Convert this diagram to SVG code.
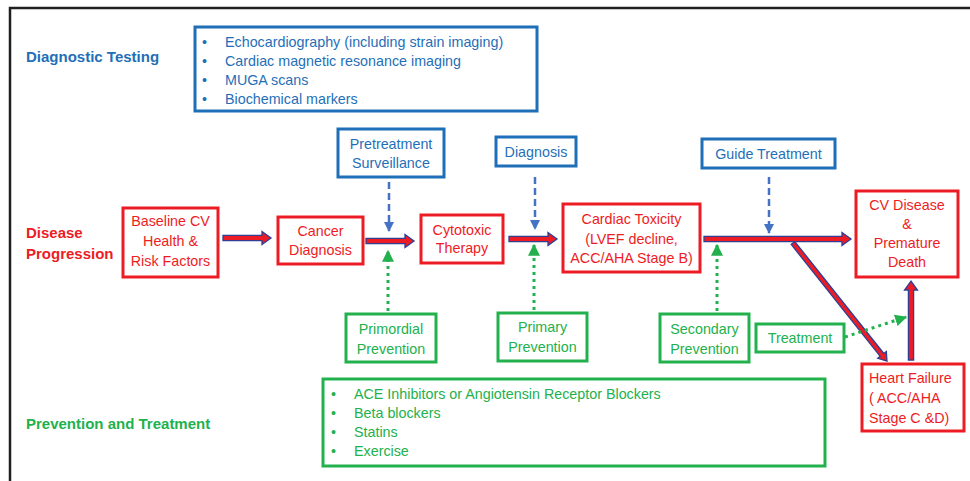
<svg xmlns="http://www.w3.org/2000/svg" width="970" height="481" viewBox="0 0 970 481">
<defs>
<style>
text{font-family:"Liberation Sans",Arial,sans-serif;font-size:14.3px}
.red{fill:#ED1C24}.blue{fill:#1F6FB8}.green{fill:#22B14C}
.lbl{font-weight:bold;font-size:15px}
.rbox{fill:#fff;stroke:#ED1C24;stroke-width:3}
.bbox{fill:#fff;stroke:#1F6FB8;stroke-width:3}
.gbox{fill:#fff;stroke:#22B14C;stroke-width:3}
.blk{fill:#ED1C24;stroke:#2F3F93;stroke-width:1.3}
.dash{stroke:#4472C4;stroke-width:2.5;stroke-dasharray:7,4;fill:none}
.dot{stroke:#22B14C;stroke-width:3;stroke-dasharray:3,4;fill:none}
</style>
<marker id="mb" viewBox="0 0 10 10" refX="9" refY="5" markerWidth="4" markerHeight="4" orient="auto" markerUnits="strokeWidth"><path d="M0,0 L10,5 L0,10 Z" fill="#4472C4"/></marker>
<marker id="mg" viewBox="0 0 10 10" refX="9" refY="5" markerWidth="4" markerHeight="4" orient="auto" markerUnits="strokeWidth"><path d="M0,0 L10,5 L0,10 Z" fill="#22B14C"/></marker>
</defs>
<rect width="970" height="481" fill="#fff"/>
<path d="M10,481 V8 H970" fill="none" stroke="#231F20" stroke-width="2.5"/>

<g id="labels">
<text class="lbl blue" x="26" y="62">Diagnostic Testing</text>
<text class="lbl red" x="26" y="238">Disease</text>
<text class="lbl red" x="26" y="259">Progression</text>
<text class="lbl green" x="26" y="429">Prevention and Treatment</text>
</g>

<g id="diag-list">
<rect class="bbox" x="195" y="27" width="342" height="84"/>
<g class="blue">
<text x="202" y="47">•</text><text x="225" y="47">Echocardiography (including strain imaging)</text>
<text x="202" y="66">•</text><text x="225" y="66">Cardiac magnetic resonance imaging</text>
<text x="202" y="85">•</text><text x="225" y="85">MUGA scans</text>
<text x="202" y="104">•</text><text x="225" y="104">Biochemical markers</text>
</g>
</g>

<g id="connectors">
<path class="blk" transform="translate(223,238)" d="M0,-2.6 H39 V-6.5 L48,0 L39,6.5 V2.6 H0 Z"/>
<path class="blk" transform="translate(366,241)" d="M0,-2.6 H39 V-6.5 L48,0 L39,6.5 V2.6 H0 Z"/>
<path class="blk" transform="translate(509,239)" d="M0,-2.6 H39 V-6.5 L48,0 L39,6.5 V2.6 H0 Z"/>
<path class="blk" transform="translate(704,239)" d="M0,-2.6 H138 V-6.5 L147,0 L138,6.5 V2.6 H0 Z"/>
<path class="blk" transform="translate(793,243) rotate(51.5)" d="M0,-2.3 H143 V-5.5 L151,0 L143,5.5 V2.3 H0 Z"/>
<path class="blk" transform="translate(911,360) rotate(-90)" d="M0,-2.6 H70 V-6.5 L79,0 L70,6.5 V2.6 H0 Z"/>
<line class="dash" x1="389" y1="182" x2="389" y2="231" marker-end="url(#mb)"/>
<line class="dash" x1="535" y1="177" x2="535" y2="229" marker-end="url(#mb)"/>
<line class="dash" x1="769" y1="177" x2="769" y2="233" marker-end="url(#mb)"/>
<line class="dot" x1="388" y1="311" x2="388" y2="251" marker-end="url(#mg)"/>
<line class="dot" x1="534" y1="310" x2="534" y2="245" marker-end="url(#mg)"/>
<line class="dot" x1="717" y1="311" x2="717" y2="245" marker-end="url(#mg)"/>
<line class="dot" x1="845" y1="337" x2="906" y2="317" marker-end="url(#mg)"/>
</g>

<g id="baseline">
<rect class="rbox" x="123" y="208" width="95" height="69"/>
<g class="red" text-anchor="middle"><text x="170.5" y="226">Baseline CV</text><text x="170.5" y="246">Health &amp;</text><text x="170.5" y="266">Risk Factors</text></g>
</g>
<g id="cancer-diagnosis">
<rect class="rbox" x="278" y="217" width="85" height="47"/>
<g class="red" text-anchor="middle"><text x="320.5" y="236">Cancer</text><text x="320.5" y="255">Diagnosis</text></g>
</g>
<g id="cytotoxic">
<rect class="rbox" x="421" y="215" width="82" height="48"/>
<g class="red" text-anchor="middle"><text x="462" y="235">Cytotoxic</text><text x="462" y="253">Therapy</text></g>
</g>
<g id="cardiac-toxicity">
<rect class="rbox" x="563" y="204" width="137" height="68"/>
<g class="red" text-anchor="middle"><text x="631.5" y="224">Cardiac Toxicity</text><text x="631.5" y="244">(LVEF decline,</text><text x="631.5" y="263">ACC/AHA Stage B)</text></g>
</g>
<g id="cv-disease">
<rect class="rbox" x="856" y="191" width="102" height="86"/>
<g class="red" text-anchor="middle"><text x="907" y="210">CV Disease</text><text x="907" y="229">&amp;</text><text x="907" y="248">Premature</text><text x="907" y="267">Death</text></g>
</g>
<g id="heart-failure">
<rect class="rbox" x="862" y="364" width="102" height="67"/>
<g class="red"><text x="869" y="383">Heart Failure</text><text x="869" y="403">( ACC/AHA</text><text x="869" y="423">Stage C &amp;D)</text></g>
</g>

<g id="pretreatment">
<rect class="bbox" x="338" y="129" width="106" height="48"/>
<g class="blue" text-anchor="middle"><text x="391" y="149">Pretreatment</text><text x="391" y="168">Surveillance</text></g>
</g>
<g id="diagnosis">
<rect class="bbox" x="496" y="137" width="80" height="29"/>
<text class="blue" text-anchor="middle" x="536" y="157">Diagnosis</text>
</g>
<g id="guide-treatment">
<rect class="bbox" x="702" y="139" width="133" height="29"/>
<text class="blue" text-anchor="middle" x="768.5" y="159">Guide Treatment</text>
</g>

<g id="primordial">
<rect class="gbox" x="346" y="314" width="90" height="48"/>
<g class="green" text-anchor="middle"><text x="391" y="334">Primordial</text><text x="391" y="354">Prevention</text></g>
</g>
<g id="primary">
<rect class="gbox" x="498" y="313" width="89" height="48"/>
<g class="green" text-anchor="middle"><text x="542.5" y="332">Primary</text><text x="542.5" y="352">Prevention</text></g>
</g>
<g id="secondary">
<rect class="gbox" x="660" y="314" width="89" height="48"/>
<g class="green" text-anchor="middle"><text x="704.5" y="334">Secondary</text><text x="704.5" y="354">Prevention</text></g>
</g>
<g id="treatment">
<rect class="gbox" x="756" y="324" width="88" height="28"/>
<text class="green" text-anchor="middle" x="800" y="343">Treatment</text>
</g>

<g id="prev-list">
<rect class="gbox" x="323" y="379" width="502" height="87"/>
<g class="green">
<text x="331" y="399">•</text><text x="354" y="399">ACE Inhibitors or Angiotensin Receptor Blockers</text>
<text x="331" y="418">•</text><text x="354" y="418">Beta blockers</text>
<text x="331" y="437">•</text><text x="354" y="437">Statins</text>
<text x="331" y="456">•</text><text x="354" y="456">Exercise</text>
</g>
</g>
</svg>
